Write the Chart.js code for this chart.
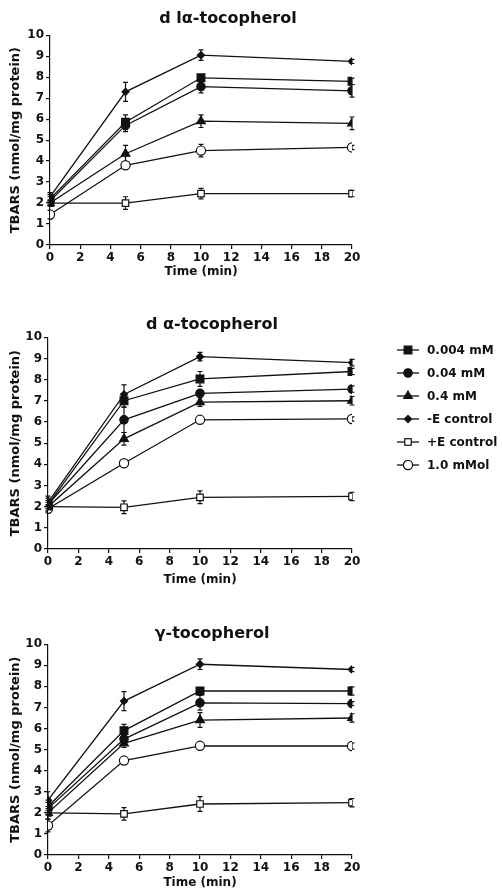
<!DOCTYPE html>
<html>
<head>
<meta charset="utf-8">
<script src="https://cdn.jsdelivr.net/npm/chart.js@4"></script>
<style>
  body { margin: 0; background: #fff; }
  #wrap { position: relative; width: 502px; height: 892px; overflow: hidden; }
  #wrap canvas { position: absolute; left: 0; }
  #legend { position: absolute; left: 397px; top: 338px; font: bold 12px "DejaVu Sans", sans-serif; color: #111; }
  .item { height: 23px; display: flex; align-items: center; white-space: nowrap; }
  .item svg { margin-right: 8px; }
</style>
</head>
<body>
<div id="wrap">
  <canvas id="c1" width="456" height="279" style="top:0px"></canvas>
  <canvas id="c2" width="424" height="292" style="top:295px"></canvas>
  <canvas id="c3" width="424" height="300" style="top:590px"></canvas>
  <div id="legend"></div>
</div>
<script>
// sample times (min) and series names
const times = [0, 5, 10, 20];
const seriesLabels = ['0.004 mM', '0.04 mM', '0.4 mM', '-E control', '+E control', '1.0 mMol'];
const panelTitles = ['d l\u03b1-tocopherol', 'd \u03b1-tocopherol', '\u03b3-tocopherol'];

// TBARS values, one row per series (same order as seriesLabels)
const dlAlphaValues = [
  [2.2, 5.85, 7.97, 7.8],
  [2.1, 5.7, 7.55, 7.35],
  [2.0, 4.35, 5.9, 5.8],
  [2.3, 7.3, 9.05, 8.75],
  [2.0, 2.0, 2.45, 2.45],
  [1.45, 3.8, 4.5, 4.65]
];
const dlAlphaErrors = [
  [0.2, 0.35, 0.15, 0.15],
  [0.2, 0.3, 0.3, 0.3],
  [0.15, 0.4, 0.3, 0.3],
  [0.2, 0.45, 0.25, 0.1],
  [0.1, 0.3, 0.25, 0.15],
  [0.2, 0.15, 0.3, 0.1]
];

const dAlphaValues = [
  [2.1, 7.0, 8.03, 8.38],
  [2.1, 6.1, 7.35, 7.55],
  [2.0, 5.2, 6.93, 7.0],
  [2.2, 7.3, 9.08, 8.8],
  [2.0, 1.97, 2.44, 2.48],
  [1.9, 4.05, 6.1, 6.14]
];
const dAlphaErrors = [
  [0.4, 0.3, 0.35, 0.15],
  [0.2, 0.6, 0.15, 0.15],
  [0.2, 0.3, 0.2, 0.2],
  [0.2, 0.45, 0.2, 0.15],
  [0.1, 0.3, 0.3, 0.2],
  [0.15, 0.1, 0.1, 0.1]
];

const gammaValues = [
  [2.3, 5.9, 7.78, 7.78],
  [2.2, 5.5, 7.22, 7.18],
  [2.0, 5.3, 6.4, 6.5],
  [2.6, 7.3, 9.05, 8.8],
  [2.0, 1.95, 2.42, 2.48],
  [1.4, 4.48, 5.18, 5.17]
];
const gammaErrors = [
  [0.3, 0.3, 0.15, 0.2],
  [0.3, 0.2, 0.35, 0.1],
  [0.3, 0.2, 0.35, 0.2],
  [0.4, 0.45, 0.25, 0.1],
  [0.1, 0.3, 0.35, 0.2],
  [0.3, 0.1, 0.1, 0.15]
];

// marker look for each series
const markers = [
  { style: 'rect', radius: 5.5, fill: '#111' },
  { style: 'circle', radius: 4.2, fill: '#111' },
  { style: 'triangle', radius: 5, fill: '#111' },
  { style: 'rectRot', radius: 3.6, fill: '#111' },
  { style: 'rect', radius: 4.6, fill: '#fff' },
  { style: 'circle', radius: 4.6, fill: '#fff' }
];

const ink = '#111';
const font = 'DejaVu Sans';

// draws vertical error bars with caps, under the markers
const errorBars = {
  id: 'errorBars',
  beforeDatasetsDraw(chart) {
    const ctx = chart.ctx;
    const yScale = chart.scales.y;
    ctx.save();
    ctx.strokeStyle = ink;
    ctx.lineWidth = 1.2;
    chart.data.datasets.forEach((ds, i) => {
      const meta = chart.getDatasetMeta(i);
      meta.data.forEach((pt, j) => {
        const v = ds.data[j].y;
        const e = ds.errors[j];
        const top = yScale.getPixelForValue(v + e);
        const bot = yScale.getPixelForValue(v - e);
        ctx.beginPath();
        ctx.moveTo(pt.x, top);
        ctx.lineTo(pt.x, bot);
        ctx.moveTo(pt.x - 2.5, top);
        ctx.lineTo(pt.x + 2.5, top);
        ctx.moveTo(pt.x - 2.5, bot);
        ctx.lineTo(pt.x + 2.5, bot);
        ctx.stroke();
      });
    });
    ctx.restore();
  }
};

function makePanel(canvasId, title, values, errors, box) {
  const datasets = values.map((row, i) => ({
    label: seriesLabels[i],
    data: times.map((t, j) => ({ x: t, y: row[j] })),
    errors: errors[i],
    borderColor: ink,
    borderWidth: 1.3,
    pointStyle: markers[i].style,
    pointRadius: markers[i].radius,
    pointBackgroundColor: markers[i].fill,
    pointBorderColor: ink,
    pointBorderWidth: 1.2,
    tension: 0,
    fill: false
  }));

  new Chart(document.getElementById(canvasId), {
    type: 'line',
    data: { datasets },
    plugins: [errorBars],
    options: {
      responsive: false,
      animation: false,
      layout: { padding: 0 },
      plugins: {
        legend: { display: false },
        tooltip: { enabled: false },
        title: {
          display: true,
          text: title,
          color: ink,
          font: { family: font, size: 16, weight: 'bold' },
          padding: box.titlePad
        }
      },
      scales: {
        x: {
          type: 'linear',
          min: 0,
          max: 20,
          afterFit: s => { s.height = box.xHeight; },
          border: { color: ink, width: 1.2 },
          grid: { drawOnChartArea: false, drawTicks: true, tickLength: 4, color: ink, lineWidth: 1.2 },
          ticks: { stepSize: 2, color: ink, padding: 2, maxRotation: 0, font: { family: font, size: 12, weight: 'bold' } },
          title: { display: true, text: 'Time (min)', color: ink, padding: 0, font: { family: font, size: 12, weight: 'bold' } }
        },
        y: {
          min: 0,
          max: 10,
          afterFit: s => { s.width = box.yWidth; },
          border: { color: ink, width: 1.2 },
          grid: { drawOnChartArea: false, drawTicks: true, tickLength: 4, color: ink, lineWidth: 1.2 },
          ticks: { stepSize: 1, color: ink, padding: 2, font: { family: font, size: 12, weight: 'bold' } },
          title: { display: true, text: 'TBARS (nmol/mg protein)', color: ink, padding: { top: 8, bottom: 0 }, font: { family: font, size: 13, weight: 'bold' } }
        },
        // empty right-hand box so the title sits where the original has it
        spacer: {
          position: 'right',
          display: true,
          afterFit: s => { s.width = box.rightWidth; },
          border: { display: false },
          grid: { display: false },
          ticks: { display: false }
        }
      }
    }
  });
}

makePanel('c1', panelTitles[0], dlAlphaValues, dlAlphaErrors,
  { titlePad: { top: 9, bottom: 7 }, xHeight: 34, yWidth: 50, rightWidth: 104 });
makePanel('c2', panelTitles[1], dAlphaValues, dAlphaErrors,
  { titlePad: { top: 20, bottom: 3 }, xHeight: 38, yWidth: 48, rightWidth: 72 });
makePanel('c3', panelTitles[2], gammaValues, gammaErrors,
  { titlePad: { top: 34, bottom: 1 }, xHeight: 35, yWidth: 48, rightWidth: 72 });

// legend next to the middle panel
function markerSvg(m) {
  const cx = 11, cy = 6, r = m.radius;
  let shape = '';
  if (m.style === 'rect') {
    const h = r * Math.SQRT1_2;
    shape = `<rect x="${cx - h}" y="${cy - h}" width="${2 * h}" height="${2 * h}"/>`;
  } else if (m.style === 'circle') {
    shape = `<circle cx="${cx}" cy="${cy}" r="${r}"/>`;
  } else if (m.style === 'triangle') {
    shape = `<polygon points="${cx},${cy - r} ${cx + r * 0.87},${cy + r * 0.5} ${cx - r * 0.87},${cy + r * 0.5}"/>`;
  } else {
    shape = `<polygon points="${cx},${cy - r} ${cx + r},${cy} ${cx},${cy + r} ${cx - r},${cy}"/>`;
  }
  return `<svg width="22" height="12"><line x1="0" y1="6" x2="22" y2="6" stroke="${ink}" stroke-width="1.3"/>` +
    `<g fill="${m.fill}" stroke="${ink}" stroke-width="1.2">${shape}</g></svg>`;
}

const legend = document.getElementById('legend');
seriesLabels.forEach((label, i) => {
  const item = document.createElement('div');
  item.className = 'item';
  item.innerHTML = markerSvg(markers[i]) + `<span>${label}</span>`;
  legend.appendChild(item);
});
</script>
</body>
</html>
